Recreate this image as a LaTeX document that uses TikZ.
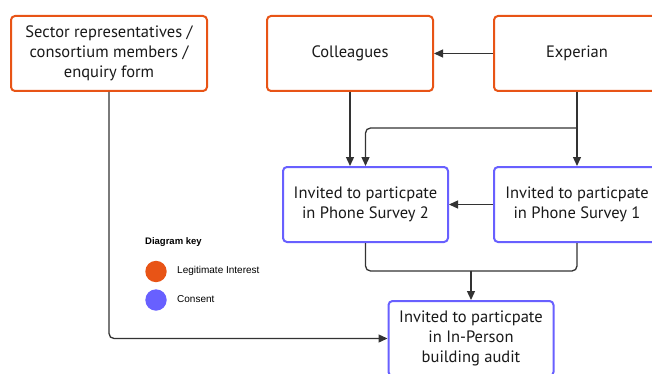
\documentclass[tikz,border=0pt]{standalone}
\usepackage{fontspec}
\setmainfont{PT Sans}
\newfontfamily\keyfont{Liberation Sans}
\usetikzlibrary{arrows.meta,calc}
\definecolor{legorange}{RGB}{232,84,22}
\definecolor{conblue}{RGB}{104,96,255}
\definecolor{linegray}{RGB}{51,51,51}
\begin{document}
\begin{tikzpicture}[x=1pt,y=-1pt,
  box/.style={draw, line width=2pt, rounded corners=4pt, fill=white, align=center,
    inner sep=0pt, font=\fontsize{16.5}{19.7}\selectfont, text=black!90},
  legit/.style={box, draw=legorange},
  consent/.style={box, draw=conblue},
  arr/.style={draw=linegray, line width=1.3pt, -{Triangle[length=9pt,width=8pt]}},
  keytext/.style={font=\keyfont\fontsize{10}{12}\selectfont, anchor=west, inner sep=0pt}]
\useasboundingbox (0,0) rectangle (652,374);
\clip (0,0) rectangle (652,374);
\node[legit, minimum width=196pt, minimum height=75pt] (sec) at (109,53.5)
  {Sector representatives /\\consortium members /\\enquiry form};
\node[legit, minimum width=166pt, minimum height=75pt] (col) at (350,53.5) {Colleagues};
\node[legit, minimum width=166pt, minimum height=75pt] (exp) at (577,53.5) {Experian};
\node[consent, minimum width=165pt, minimum height=75pt] (ps2) at (365.5,204.5)
  {Invited to particpate\\in Phone Survey 2};
\node[consent, minimum width=166pt, minimum height=75pt] (ps1) at (577,204.5)
  {Invited to particpate\\in Phone Survey 1};
\node[consent, minimum width=165pt, minimum height=75pt] (ip) at (471,338.5)
  {Invited to particpate\\in In-Person\\building audit};
\coordinate (j1) at (577,128);
\coordinate (j2) at (471,271);
\draw[arr] (exp.west) -- (col.east);
\draw[arr] (col.south) -- (col.south |- ps2.north);
\draw[arr] (exp.south) -- (exp.south |- ps1.north);
\draw[arr, rounded corners=5pt] (j1) -| (ps2.north);
\draw[arr] (ps1.west) -- (ps2.east);
\draw[draw=linegray, line width=1.3pt, rounded corners=5pt] (ps2.south) |- (j2);
\draw[draw=linegray, line width=1.3pt, rounded corners=5pt] (ps1.south) |- (j2);
\draw[arr] (j2) -- (ip.north);
\draw[arr, rounded corners=5pt] (sec.south) |- (ip.west);
\node[keytext, font=\keyfont\bfseries\fontsize{9.5}{12}\selectfont] (kt) at (145,242) {Diagram key};
\fill[legorange] (156,271.5) circle (10.7);
\fill[conblue] (156,300) circle (10.7);
\node[keytext] (k1) at (177,271) {Legitimate Interest};
\node[keytext] (k2) at (177,299) {Consent};
\end{tikzpicture}
\end{document}
